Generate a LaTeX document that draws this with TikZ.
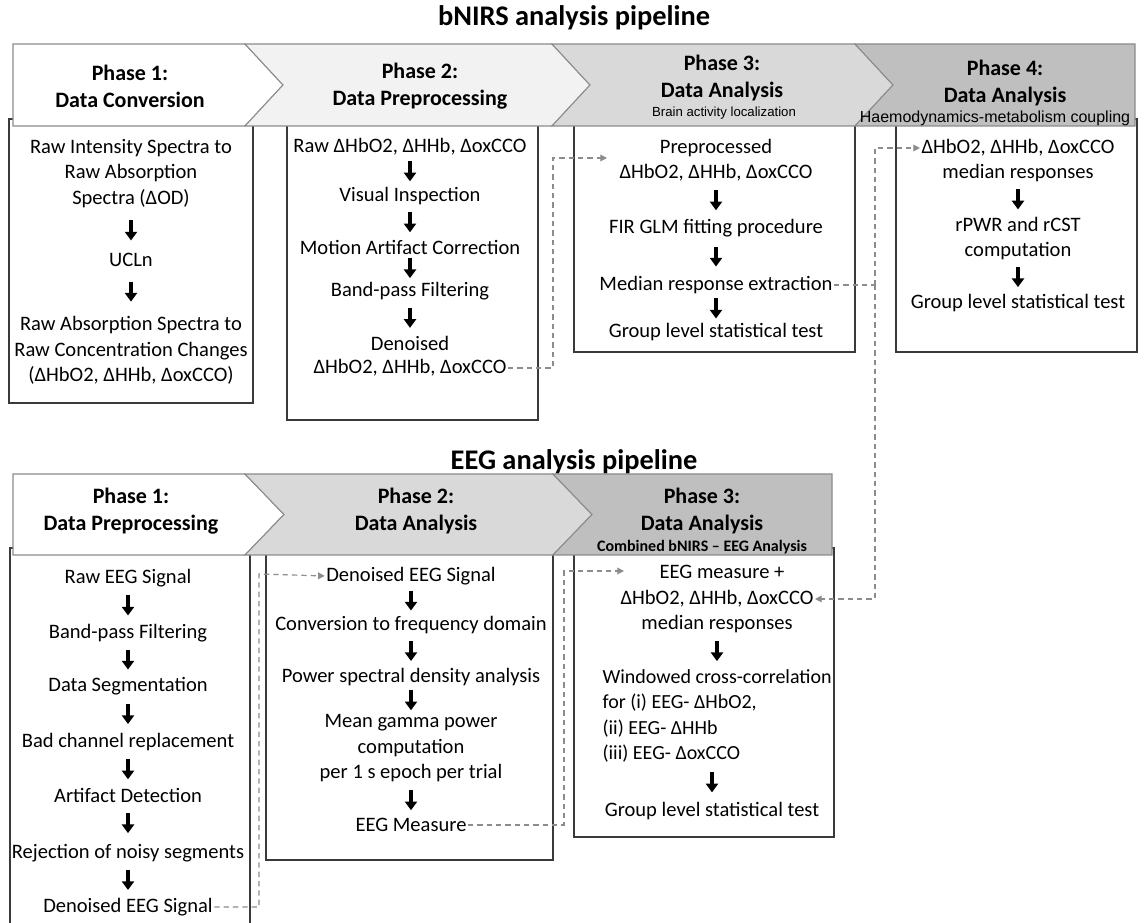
\documentclass[tikz,border=0pt]{standalone}
\usepackage{fontspec}
\setmainfont{Carlito}
\newfontfamily\arialf{Liberation Sans}
\usetikzlibrary{arrows.meta,calc}
\definecolor{boxline}{HTML}{3A3A3A}
\definecolor{chevline}{HTML}{8C8C8C}
\definecolor{gA}{HTML}{F2F2F2}
\definecolor{gB}{HTML}{D9D9D9}
\definecolor{gC}{HTML}{BFBFBF}
\definecolor{dashc}{HTML}{8C8C8C}
\newcommand\flowarrow[2]{\draw[blk] ($(#1.south)!0.5!(#2.north)+(0,-10)$) -- ($(#1.south)!0.5!(#2.north)+(0,10)$);}
\begin{document}
\begin{tikzpicture}[x=0.75pt,y=-0.75pt,
  txt/.style={inner sep=1pt, align=center, font=\fontsize{15.4}{19.1}\selectfont},
  head/.style={inner sep=0pt, align=center, font=\bfseries\fontsize{16.5}{20.25}\selectfont},
  subA/.style={inner sep=0pt, font=\arialf\fontsize{9.9}{11}\selectfont},
  subB/.style={inner sep=0pt, font=\arialf\fontsize{12}{13}\selectfont},
  subC/.style={inner sep=0pt, font=\bfseries\fontsize{12}{13}\selectfont},
  ttl/.style={inner sep=0pt, font=\bfseries\fontsize{21.3}{24}\selectfont},
  panel/.style={draw=boxline, line width=1.2pt, fill=white},
  chev/.style={draw=chevline, line width=0.8pt},
  blk/.style={line width=2.4pt, -{Triangle[width=9pt,length=6.5pt]}},
  gdash/.style={draw=dashc, line width=0.9pt, dash pattern=on 4pt off 3pt, -{Triangle[width=5pt,length=5pt]}},
  gline/.style={draw=dashc, line width=0.9pt, dash pattern=on 4pt off 3pt},
]
\useasboundingbox (0,0) rectangle (1147,923);
\fill[white] (0,0) rectangle (1147,923);

% ---------- bNIRS ----------
\node[ttl] (ttl1) at (574,18) {bNIRS analysis pipeline};
\path[panel] (9,119) rectangle (253,403);
\path[panel] (287,119) rectangle (538,420);
\path[panel] (574,119) rectangle (855,352);
\path[panel] (896,119) rectangle (1137,352);

\path[chev, fill=white] (13,44) -- (245,44) -- (283,85) -- (245,126) -- (13,126) -- cycle;
\path[chev, fill=gA] (245,44) -- (552,44) -- (590,85) -- (552,126) -- (245,126) -- (283,85) -- cycle;
\path[chev, fill=gB] (552,44) -- (855,44) -- (893,85) -- (855,126) -- (552,126) -- (590,85) -- cycle;
\path[chev, fill=gC] (855,44) -- (1135,44) -- (1135,126) -- (855,126) -- (893,85) -- cycle;

\node[head] (h1) at (130,86) {Phase 1:\\Data Conversion};
\node[head] (h2) at (420,86) {Phase 2:\\Data Preprocessing};
\node[head] (h3) at (722,78) {Phase 3:\\Data Analysis};
\node[subA] (s3) at (724,113) {Brain activity localization};
\node[head] (h4) at (1005,83) {Phase 4:\\Data Analysis};
\node[subB] (s4) at (995,118) {Haemodynamics-metabolism coupling};

\node[txt] (t1a) at (131,173.5) {Raw Intensity Spectra to\\Raw Absorption\\Spectra (ΔOD)};
\node[txt] (t1b) at (131,260) {UCLn};
\node[txt] (t1c) at (131,350.5) {Raw Absorption Spectra to\\Raw Concentration Changes\\(ΔHbO2, ΔHHb, ΔoxCCO)};
\flowarrow{t1a}{t1b}
\flowarrow{t1b}{t1c}

\node[txt] (t2a) at (410,147) {Raw ΔHbO2, ΔHHb, ΔoxCCO};
\node[txt] (t2b) at (410,196) {Visual Inspection};
\node[txt] (t2c) at (410,247) {Motion Artifact Correction};
\node[txt] (t2d) at (410,291) {Band-pass Filtering};
\node[txt] (t2e) at (410,343) {Denoised};
\node[txt] (t2f) at (410,368) {ΔHbO2, ΔHHb, ΔoxCCO};
\flowarrow{t2a}{t2b}
\flowarrow{t2b}{t2c}
\flowarrow{t2c}{t2d}
\flowarrow{t2d}{t2e}

\node[txt] (t3a) at (716,148) {Preprocessed};
\node[txt] (t3b) at (716,173) {ΔHbO2, ΔHHb, ΔoxCCO};
\node[txt] (t3c) at (716,228) {FIR GLM fitting procedure};
\node[txt] (t3d) at (716,285) {Median response extraction};
\node[txt] (t3e) at (716,332) {Group level statistical test};
\flowarrow{t3b}{t3c}
\flowarrow{t3c}{t3d}
\flowarrow{t3d}{t3e}

\node[txt] (t4a) at (1018,148) {ΔHbO2, ΔHHb, ΔoxCCO};
\node[txt] (t4b) at (1018,173) {median responses};
\node[txt] (t4c) at (1018,238.5) {rPWR and rCST\\computation};
\node[txt] (t4d) at (1018,303) {Group level statistical test};
\flowarrow{t4b}{t4c}
\flowarrow{t4c}{t4d}

% ---------- EEG ----------
\node[ttl] (ttl2) at (574,462) {EEG analysis pipeline};
\path[panel] (10,923) -- (10,548) -- (250,548) -- (250,923);
\path[panel] (266,548) rectangle (553,860);
\path[panel] (574,548) rectangle (834,837);

\path[chev, fill=white] (13,474) -- (245,474) -- (284,514.5) -- (245,555) -- (13,555) -- cycle;
\path[chev, fill=gB] (245,474) -- (553,474) -- (592,514.5) -- (553,555) -- (245,555) -- (284,514.5) -- cycle;
\path[chev, fill=gC] (553,474) -- (832,474) -- (832,555) -- (553,555) -- (592,514.5) -- cycle;

\node[head] (eh1) at (131,511) {Phase 1:\\Data Preprocessing};
\node[head] (eh2) at (416,511) {Phase 2:\\Data Analysis};
\node[head] (eh3) at (702,511) {Phase 3:\\Data Analysis};
\node[subC] (es3) at (702,547) {Combined bNIRS – EEG Analysis};

\node[txt] (e1a) at (128,578) {Raw EEG Signal};
\node[txt] (e1b) at (128,633) {Band-pass Filtering};
\node[txt] (e1c) at (128,686) {Data Segmentation};
\node[txt] (e1d) at (128,742) {Bad channel replacement};
\node[txt] (e1e) at (128,795) {Artifact Detection};
\node[txt] (e1f) at (128,853) {Rejection of noisy segments};
\node[txt] (e1g) at (128,907) {Denoised EEG Signal};
\flowarrow{e1a}{e1b}
\flowarrow{e1b}{e1c}
\flowarrow{e1c}{e1d}
\flowarrow{e1d}{e1e}
\flowarrow{e1e}{e1f}
\flowarrow{e1f}{e1g}

\node[txt] (e2a) at (411,576) {Denoised EEG Signal};
\node[txt] (e2b) at (411,625) {Conversion to frequency domain};
\node[txt] (e2c) at (411,677) {Power spectral density analysis};
\node[txt] (e2d) at (411,748.5) {Mean gamma power\\computation\\per 1 s epoch per trial};
\node[txt] (e2e) at (411,825) {EEG Measure};
\flowarrow{e2a}{e2b}
\flowarrow{e2b}{e2c}
\flowarrow{e2c}{e2d}
\flowarrow{e2d}{e2e}

\node[txt] (e3a) at (722,572) {EEG measure +};
\node[txt] (e3b) at (717,599) {ΔHbO2, ΔHHb, ΔoxCCO};
\node[txt] (e3c) at (717,624) {median responses};
\node[txt, align=left, anchor=west, font=\fontsize{15}{19.1}\selectfont] (e3d) at (601,716) {Windowed cross-correlation\\for (i) EEG- ΔHbO2,\\(ii) EEG- ΔHHb\\(iii) EEG- ΔoxCCO};
\node[txt] (e3e) at (712,811) {Group level statistical test};
\draw[blk] ($(e3c.south)!0.5!(e3c.south |- e3d.north)+(0,-10)$) -- ++(0,20);
\draw[blk] ($(e3e.north |- e3d.south)!0.5!(e3e.north)+(0,-10)$) -- ++(0,20);

% ---------- dashed links ----------
\coordinate (j1) at (553,158);
\coordinate (p3in) at (607,158);
\draw[gdash] (t2f.east) -| (j1) -- (p3in);

\coordinate (j2) at (875,285);
\draw[gline] (t3d.east) -- (j2);
\draw[gdash] (j2) |- (t4a.west);
\draw[gdash] (j2) |- (e3b.east);

\coordinate (j3) at (259,574);
\draw[gdash] (e1g.east) -| (j3) -- (e2a.west);

\coordinate (j4) at (564,571);
\coordinate (e3in) at (624,571);
\draw[gdash] (e2e.east) -| (j4) -- (e3in);
\end{tikzpicture}
\end{document}
